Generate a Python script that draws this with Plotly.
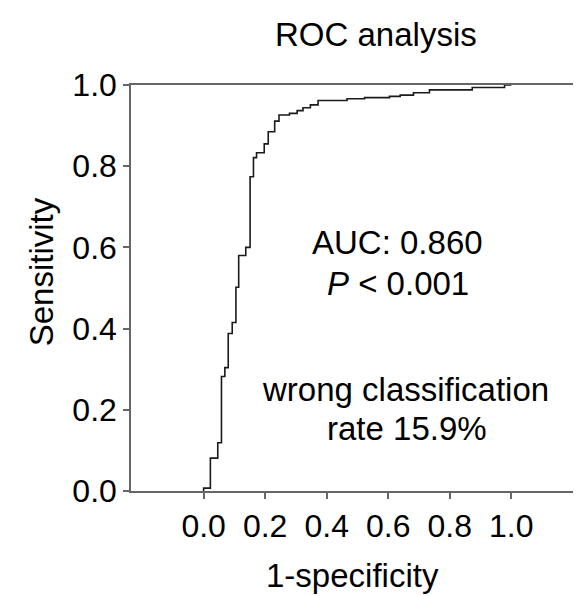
import plotly.graph_objects as go

# ROC curve corner points (1-specificity, sensitivity); steps drawn vertical-then-horizontal
fpr = [0.0, 0.022, 0.046, 0.058, 0.069, 0.080, 0.093, 0.105, 0.114, 0.137, 0.151,
       0.162, 0.172, 0.197, 0.210, 0.231, 0.245, 0.279, 0.304, 0.323, 0.347,
       0.372, 0.466, 0.523, 0.604, 0.639, 0.682, 0.734, 0.873, 0.978, 1.0]
tpr = [0.0, 0.007, 0.081, 0.119, 0.282, 0.304, 0.388, 0.415, 0.502, 0.580, 0.600,
       0.774, 0.821, 0.833, 0.855, 0.885, 0.911, 0.926, 0.930, 0.937, 0.944,
       0.951, 0.962, 0.966, 0.969, 0.972, 0.975, 0.981, 0.988, 0.994, 1.0]

tick_vals = [0.0, 0.2, 0.4, 0.6, 0.8, 1.0]
tick_text = ["0.0", "0.2", "0.4", "0.6", "0.8", "1.0"]

FONT = "Liberation Sans, Arial, sans-serif"
FS = 33

fig = go.Figure()
fig.add_trace(go.Scatter(x=fpr, y=tpr, mode="lines", line_shape="vh",
                         line=dict(color="#1a1a1a", width=1.6),
                         hoverinfo="skip", showlegend=False))

axis_common = dict(showline=True, mirror=True, linecolor="#666666", linewidth=1.5,
                   ticks="outside", ticklen=6, tickwidth=1.5, tickcolor="#666666",
                   showgrid=False, zeroline=False,
                   tickfont=dict(family=FONT, size=32, color="black"),
                   tickvals=tick_vals, ticktext=tick_text)

fig.update_xaxes(range=[-0.236, 1.233], ticklabelstandoff=0, **axis_common)
fig.update_yaxes(range=[0, 1.0], **axis_common)

ann = dict(xref="paper", yref="paper", showarrow=False, borderpad=0,
           font=dict(family=FONT, size=FS, color="black"))
fig.add_annotation(text="ROC analysis", x=0.541, y=1.1256, xanchor="center", yanchor="middle", **ann)
fig.add_annotation(text="AUC: 0.860", x=0.590, y=0.611, xanchor="center", yanchor="middle", **ann)
fig.add_annotation(text="<i>P</i> < 0.001", x=0.591, y=0.512, xanchor="center", yanchor="middle", **ann)
fig.add_annotation(text="wrong classification", x=0.608, y=0.251, xanchor="center", yanchor="middle", **ann)
fig.add_annotation(text="rate 15.9%", x=0.610, y=0.153, xanchor="center", yanchor="middle", **ann)
fig.add_annotation(text="1-specificity", x=0.489, y=-0.207, xanchor="center", yanchor="middle", **ann)
fig.add_annotation(text="Sensitivity", x=-0.198, y=0.54, xanchor="center", yanchor="middle",
                   textangle=-90, **ann)

fig.update_layout(width=581, height=596,
                  margin=dict(l=123, r=4, t=77, b=113),
                  paper_bgcolor="white", plot_bgcolor="white")

fig.write_html("out.html")
